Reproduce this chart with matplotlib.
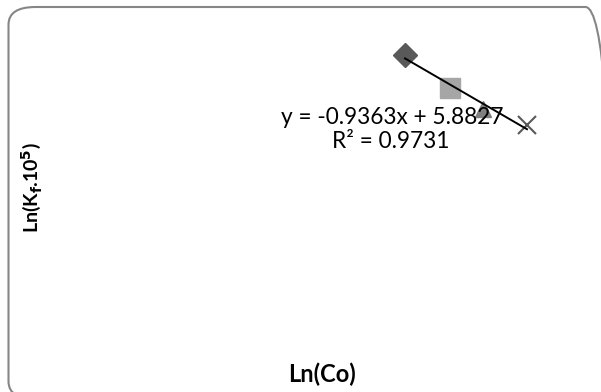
import matplotlib
matplotlib.use("Agg")
import matplotlib.pyplot as plt
import numpy as np
from matplotlib.patches import FancyBboxPatch

# data (ln(Co), ln(Kf.10^5))
ln_co = [3.0, 3.45, 3.78, 4.22]
ln_kf = [3.13, 2.60, 2.26, 2.00]
markers = ['D', 's', '^', 'x']
colors = ['#595959', '#a6a6a6', '#7f7f7f', '#595959']
sizes = [12, 14, 11, 13]

eq_text = "y = -0.9363x + 5.8827"
r2_text = "R² = 0.9731"

fig = plt.figure(figsize=(6.01, 3.92), dpi=100)
ax = fig.add_axes([0, 0, 1, 1])
ax.set_xlim(-1.05, 4.96)
ax.set_ylim(-2.30, 4.01)
ax.axis('off')

# rounded frame, partly cut off at right/bottom
frame = FancyBboxPatch((8.5 / 601, -7 / 392), 604 / 601, 392 / 392,
                       boxstyle="round,pad=0,rounding_size=0.045",
                       transform=fig.transFigure, fill=False,
                       edgecolor='#868686', linewidth=1.5, clip_on=False)
fig.add_artist(frame)

for x, y, m, c, s in zip(ln_co, ln_kf, markers, colors, sizes):
    if m == 'x':
        ax.plot(x, y, marker=m, color=c, markersize=s, markeredgewidth=1.5, linestyle='none')
    else:
        ax.plot(x, y, marker=m, color=c, markersize=s, linestyle='none')

k, b = np.polyfit(ln_co, ln_kf, 1)
xs = np.array([min(ln_co), max(ln_co)])
ax.plot(xs, k * xs + b, color='black', linewidth=1.4)

ax.text(392 / 601, 1 - 118 / 392, eq_text, transform=ax.transAxes,
        ha='center', va='center', fontsize=16.3, family='Lato', zorder=5)
ax.text(391 / 601, 1 - 142 / 392, r2_text, transform=ax.transAxes,
        ha='center', va='center', fontsize=16.3, family='Lato', zorder=5)

ax.text(322 / 601, 1 - 374 / 392, 'Ln(Co)', transform=ax.transAxes,
        ha='center', va='center', fontsize=17, fontweight='bold', family='Lato')
ax.text(32 / 601, 1 - 188 / 392, r'Ln(K$_\mathbf{f}$.10$^\mathbf{5}$)', transform=ax.transAxes,
        ha='center', va='center', fontsize=14, fontweight='bold', family='Lato',
        rotation=90)

fig.savefig('out.png', dpi=100)
